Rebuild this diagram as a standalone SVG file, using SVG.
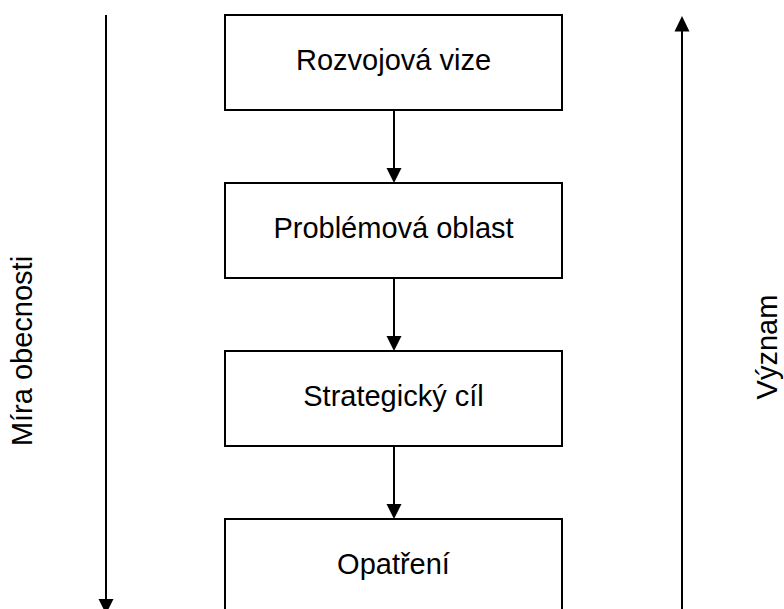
<svg xmlns="http://www.w3.org/2000/svg" width="784" height="609" viewBox="0 0 784 609">
  <style>
    .box rect { fill: #ffffff; stroke: #000000; stroke-width: 2; }
    .lbl { font-family: "Liberation Sans", Arial, sans-serif; font-size: 29px; fill: #000000; text-anchor: middle; }
    .conn line { stroke: #000000; stroke-width: 2; }
    .conn path { fill: #000000; stroke: none; }
  </style>
  <rect x="0" y="0" width="784" height="609" fill="#ffffff"/>
  <g id="node-rozvojova-vize" class="box">
    <rect x="225" y="15" width="337" height="95"/>
    <text class="lbl" x="393.5" y="69.5">Rozvojová vize</text>
  </g>
  <g id="node-problemova-oblast" class="box">
    <rect x="225" y="183" width="337" height="95"/>
    <text class="lbl" x="393.5" y="237.5">Problémová oblast</text>
  </g>
  <g id="node-strategicky-cil" class="box">
    <rect x="225" y="351" width="337" height="95"/>
    <text class="lbl" x="393.5" y="405.5">Strategický cíl</text>
  </g>
  <g id="node-opatreni" class="box">
    <rect x="225" y="519" width="337" height="95"/>
    <text class="lbl" x="393.5" y="573.5">Opatření</text>
  </g>
  <g id="connectors" class="conn">
    <line x1="394" y1="110" x2="394" y2="170"/>
    <path d="M386.5,168 L401.5,168 L394,183 Z"/>
    <line x1="394" y1="278" x2="394" y2="338"/>
    <path d="M386.5,336 L401.5,336 L394,351 Z"/>
    <line x1="394" y1="446" x2="394" y2="506"/>
    <path d="M386.5,504 L401.5,504 L394,519 Z"/>
    <line x1="106" y1="15" x2="106" y2="601"/>
    <path d="M98.5,599 L113.5,599 L106,614 Z"/>
    <line x1="682" y1="30" x2="682" y2="609"/>
    <path d="M674.5,31.5 L689.5,31.5 L682,16 Z"/>
  </g>
  <g id="label-mira-obecnosti">
    <text class="lbl" transform="translate(32,351) rotate(-90)" x="0" y="0">Míra obecnosti</text>
  </g>
  <g id="label-vyznam">
    <text class="lbl" transform="translate(777,347) rotate(-90)" x="0" y="0">Význam</text>
  </g>
</svg>
